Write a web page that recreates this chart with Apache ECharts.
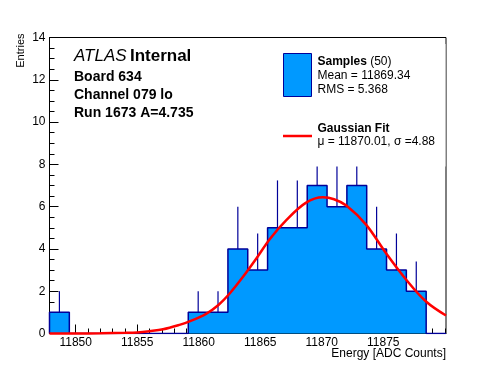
<!DOCTYPE html>
<html>
<head>
<meta charset="utf-8">
<script src="https://cdn.jsdelivr.net/npm/echarts@6/dist/echarts.min.js"></script>
<style>
html,body{margin:0;padding:0;background:#fff;}
#chart{width:496px;height:372px;}
</style>
</head>
<body>
<div id="chart"></div>
<script>
// ---- data ----
const xMin = 11847.87;
const xMax = 11880.10;
const binStart = 11847.87;
const binWidth = 1.6115;
const counts = [1, 0, 0, 0, 0, 0, 0, 1, 1, 4, 3, 5, 5, 7, 6, 7, 4, 3, 2, 0];
const errors = [1, 0, 0, 0, 0, 0, 0, 1, 1, 2, 1.73, 2.24, 2.24, 2.65, 2.45, 2.65, 2, 1.73, 1.41, 0];
const fitCurve = [
  [11847.87, 0.0], [11850, 0.0], [11852, 0.01], [11854, 0.03], [11855, 0.05],
  [11856, 0.11], [11857.1, 0.20], [11858.5, 0.42], [11859.2, 0.56], [11860.6, 0.93],
  [11861.6, 1.35], [11862.5, 1.88], [11863.6, 2.68], [11864.7, 3.56], [11865.8, 4.48],
  [11867.1, 5.35], [11868.7, 6.18], [11870.1, 6.44], [11871.0, 6.35], [11872.0, 6.05],
  [11873.6, 5.15], [11875.2, 3.82], [11876.9, 2.52], [11878.5, 1.50], [11880.1, 0.85]
];
const xMajorTicks = [11850, 11855, 11860, 11865, 11870, 11875];
const xMinorTicks = [11848, 11849, 11850, 11851, 11852, 11853, 11854, 11855, 11856, 11857, 11858,
  11859, 11860, 11861, 11862, 11863, 11864, 11865, 11866, 11867, 11868, 11869, 11870, 11871,
  11872, 11873, 11874, 11875, 11876, 11877, 11878, 11879, 11880];
const yMin = 0, yMax = 14, yStep = 2;

// ---- derived series data ----
const stepData = [[binStart, 0]];
counts.forEach((c, i) => stepData.push([binStart + i * binWidth, c]));
stepData.push([binStart + counts.length * binWidth, counts[counts.length - 1]]);
stepData.push([binStart + counts.length * binWidth, 0]);
const errData = counts.map((c, i) => [binStart + (i + 0.5) * binWidth, c, c + errors[i]]).filter(d => d[1] > 0);

const FONT = "'Liberation Sans', Arial, Helvetica, sans-serif";
const FILL = '#0099ff';
const EDGE = '#000099';

const chart = echarts.init(document.getElementById('chart'), null, {renderer: 'canvas'});
chart.setOption({
  animation: false,
  backgroundColor: '#ffffff',
  grid: {left: 49.5, right: 50, top: 37.5, bottom: 38.5, show: true, borderColor: '#000', borderWidth: 1, containLabel: false},
  xAxis: [{
    type: 'value', min: xMin, max: xMax,
    axisLine: {show: true, onZero: false, lineStyle: {color: '#000', width: 1}},
    axisTick: {show: true, inside: true, length: 9, customValues: xMajorTicks, lineStyle: {color: '#000'}},
    axisLabel: {show: true, customValues: xMajorTicks, margin: 3, color: '#000', fontSize: 12, fontFamily: FONT,
      formatter: v => String(v)},
    splitLine: {show: false}
  }, {
    type: 'value', min: xMin, max: xMax, position: 'bottom',
    axisLine: {show: false},
    axisTick: {show: true, inside: true, length: 5, customValues: xMinorTicks, lineStyle: {color: '#000'}},
    axisLabel: {show: false},
    splitLine: {show: false}
  }],
  yAxis: {
    type: 'value', min: yMin, max: yMax, interval: yStep,
    axisLine: {show: true, lineStyle: {color: '#000', width: 1}},
    axisTick: {show: true, inside: true, length: 9, lineStyle: {color: '#000'}},
    minorTick: {show: true, splitNumber: 4, length: 5, lineStyle: {color: '#000'}},
    axisLabel: {margin: 4, color: '#000', fontSize: 12, fontFamily: FONT},
    splitLine: {show: false}
  },
  series: [{
    type: 'line', step: 'end', data: stepData, symbol: 'none', z: 2,
    lineStyle: {color: EDGE, width: 1.5},
    areaStyle: {color: FILL, opacity: 1, origin: 0}
  }, {
    type: 'custom', data: errData, z: 3,
    renderItem: (params, api) => {
      const p1 = api.coord([api.value(0), api.value(1)]);
      const p2 = api.coord([api.value(0), api.value(2)]);
      return {type: 'line', shape: {x1: p1[0], y1: p1[1], x2: p2[0], y2: p2[1]},
        style: {stroke: EDGE, lineWidth: 1.2}};
    }
  }, {
    type: 'line', data: fitCurve, symbol: 'none', smooth: 0.35, z: 6, clip: false,
    lineStyle: {color: '#ff0000', width: 2.5}
  }],
  graphic: [
    {type: 'text', x: 20.5, y: 33.5, rotation: Math.PI / 2,
      style: {text: 'Entries', font: '11px ' + FONT, fill: '#000', align: 'right', verticalAlign: 'middle'}},
    {type: 'text', x: 446, y: 354,
      style: {text: 'Energy [ADC Counts]', font: '12px ' + FONT, fill: '#000', align: 'right', verticalAlign: 'middle'}},
    {type: 'text', x: 74, y: 56.5,
      style: {text: '{a|ATLAS} {b|Internal}', verticalAlign: 'middle',
        rich: {a: {fontSize: 17, fontStyle: 'italic', fontFamily: FONT, fill: '#000'},
               b: {fontSize: 17, fontWeight: 'bold', fontFamily: FONT, fill: '#000'}}}},
    {type: 'text', x: 74, y: 77, style: {text: 'Board 634', font: 'bold 14px ' + FONT, fill: '#000', verticalAlign: 'middle'}},
    {type: 'text', x: 74, y: 95.5, style: {text: 'Channel 079 lo', font: 'bold 14px ' + FONT, fill: '#000', verticalAlign: 'middle'}},
    {type: 'text', x: 74, y: 113.5, style: {text: 'Run 1673 A=4.735', font: 'bold 14px ' + FONT, fill: '#000', verticalAlign: 'middle'}},
    {type: 'rect', z: 10, shape: {x: 277, y: 44, width: 168.5, height: 122.5}, style: {fill: '#ffffff', stroke: null}},
    {type: 'rect', z: 11, shape: {x: 283.5, y: 53.5, width: 28, height: 43}, style: {fill: FILL, stroke: EDGE, lineWidth: 1}},
    {type: 'text', z: 11, x: 317.5, y: 62,
      style: {text: '{b|Samples} {n|(50)}', verticalAlign: 'middle',
        rich: {b: {fontSize: 12, fontWeight: 'bold', fontFamily: FONT}, n: {fontSize: 12, fontFamily: FONT}}}},
    {type: 'text', z: 11, x: 317.5, y: 75.5, style: {text: 'Mean = 11869.34', font: '12px ' + FONT, fill: '#000', verticalAlign: 'middle'}},
    {type: 'text', z: 11, x: 317.5, y: 90, style: {text: 'RMS = 5.368', font: '12px ' + FONT, fill: '#000', verticalAlign: 'middle'}},
    {type: 'line', z: 11, shape: {x1: 283, y1: 136, x2: 312, y2: 136}, style: {stroke: '#ff0000', lineWidth: 2.5}},
    {type: 'text', z: 11, x: 317.5, y: 128.5, style: {text: 'Gaussian Fit', font: 'bold 12px ' + FONT, fill: '#000', verticalAlign: 'middle'}},
    {type: 'text', z: 11, x: 317.5, y: 142, style: {text: 'μ = 11870.01, σ =4.88', font: '12px ' + FONT, fill: '#000', verticalAlign: 'middle'}}
  ]
});
</script>
</body>
</html>
